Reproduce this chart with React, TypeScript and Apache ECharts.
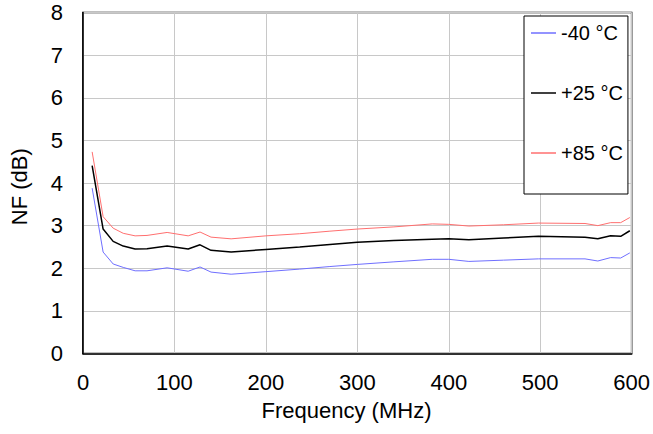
import React, { useEffect, useRef } from "react";
import * as echarts from "echarts";

const freqMHz = [10, 22, 33, 44, 57, 70, 92, 115, 128, 140, 162, 200, 237, 270, 300, 340, 382, 400, 422, 460, 498, 549, 563, 577, 588, 598];
const nfMinus40 = [3.88, 2.38, 2.10, 2.02, 1.94, 1.94, 2.01, 1.93, 2.03, 1.91, 1.86, 1.92, 1.98, 2.04, 2.09, 2.15, 2.21, 2.21, 2.16, 2.19, 2.22, 2.22, 2.17, 2.25, 2.24, 2.36];
const nfPlus25 = [4.41, 2.92, 2.63, 2.52, 2.45, 2.46, 2.52, 2.45, 2.55, 2.42, 2.38, 2.44, 2.50, 2.56, 2.61, 2.65, 2.68, 2.69, 2.67, 2.71, 2.75, 2.73, 2.69, 2.76, 2.75, 2.88];
const nfPlus85 = [4.73, 3.21, 2.94, 2.82, 2.76, 2.77, 2.84, 2.76, 2.85, 2.73, 2.69, 2.76, 2.81, 2.87, 2.92, 2.97, 3.04, 3.03, 2.99, 3.02, 3.06, 3.05, 3.00, 3.07, 3.07, 3.19];
const seriesNames = ["-40 °C", "+25 °C", "+85 °C"];
const seriesColors = ["#6f6fff", "#000000", "#ff6f6f"];
const xTitle = "Frequency (MHz)";
const yTitle = "NF (dB)";

const FONT = "Arial";

function pair(xs: number[], ys: number[]) {
  return xs.map((x, i) => [x, ys[i]]);
}

export default function App() {
  const ref = useRef<HTMLDivElement>(null);
  useEffect(() => {
    if (!ref.current) return;
    const chart = echarts.init(ref.current, undefined, { renderer: "svg" });
    const mk = (name: string, ys: number[], color: string, width: number) => ({
      name,
      type: "line",
      data: pair(freqMHz, ys),
      symbol: "none",
      color,
      lineStyle: { color, width },
    });
    chart.setOption({
      animation: false,
      backgroundColor: "#fff",
      textStyle: { fontFamily: FONT, color: "#000" },
      grid: {
        left: 83,
        right: 20,
        top: 12.5,
        bottom: 80.5,
        show: true,
        borderColor: "#000",
        borderWidth: 1.5,
        containLabel: false,
      },
      legend: {
        orient: "vertical",
        left: 524,
        top: 16,
        padding: [7, 5, 31, 7],
        itemGap: 40,
        itemWidth: 25,
        itemHeight: 1.5,
        icon: "rect",
        borderColor: "#000",
        borderWidth: 1,
        backgroundColor: "#fff",
        textStyle: { fontFamily: FONT, fontSize: 20, color: "#000" },
        data: seriesNames.map((n, i) => ({ name: n, itemStyle: { color: seriesColors[i] } })),
      },
      xAxis: {
        type: "value",
        min: 0,
        max: 600,
        interval: 100,
        axisLine: { show: true, lineStyle: { color: "#000", width: 1.5 } },
        axisTick: { show: false },
        axisLabel: { fontFamily: FONT, fontSize: 22, color: "#000", margin: 18 },
        splitLine: { show: true, lineStyle: { color: "#c8c8c8", width: 1 } },
      },
      yAxis: {
        type: "value",
        min: 0,
        max: 8,
        interval: 1,
        axisLine: { show: true, lineStyle: { color: "#000", width: 1.5 } },
        axisTick: { show: false },
        axisLabel: { fontFamily: FONT, fontSize: 22, color: "#000", margin: 20 },
        splitLine: { show: true, lineStyle: { color: "#c8c8c8", width: 1 } },
      },
      graphic: [
        {
          type: "text",
          x: 346.5,
          y: 410,
          style: {
            text: xTitle,
            fontFamily: FONT,
            fontSize: 22,
            fill: "#000",
            align: "center",
            verticalAlign: "middle",
          },
        },
        {
          type: "text",
          x: 19,
          y: 186.7,
          rotation: Math.PI / 2,
          style: {
            text: yTitle,
            fontFamily: FONT,
            fontSize: 22,
            fill: "#000",
            align: "center",
            verticalAlign: "middle",
          },
        },
      ],
      series: [
        mk(seriesNames[0], nfMinus40, seriesColors[0], 1),
        mk(seriesNames[1], nfPlus25, seriesColors[1], 1.5),
        mk(seriesNames[2], nfPlus85, seriesColors[2], 1),
      ],
    });
    return () => chart.dispose();
  }, []);
  return (
    <div
      ref={ref}
      style={{ position: "fixed", left: 0, top: 0, width: 653, height: 434, background: "#fff" }}
    />
  );
}
